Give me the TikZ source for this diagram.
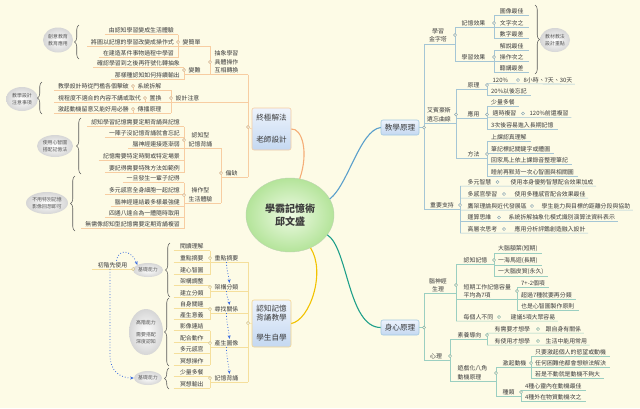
\documentclass[tikz,border=0pt]{standalone}
\usepackage{fontspec}
\setmainfont{Noto Sans CJK TC}
\usetikzlibrary{decorations.pathreplacing,arrows.meta,shapes.geometric}
\definecolor{bg}{HTML}{FDFBE6}
\definecolor{txt}{HTML}{3C3C3C}
\definecolor{ctxt}{HTML}{555555}
\definecolor{lo}{HTML}{F7CDA2}
\definecolor{ly}{HTML}{F5DF9C}
\definecolor{lb}{HTML}{A5C6D5}
\definecolor{lt}{HTML}{9BCFC1}
\definecolor{co}{HTML}{F5AE78}
\definecolor{cy}{HTML}{F2C200}
\definecolor{cb}{HTML}{5A9FCB}
\definecolor{ct}{HTML}{20A08A}
\definecolor{dotb}{HTML}{3A6CE0}
\definecolor{brc}{HTML}{5A5A5A}
\definecolor{boxtop}{HTML}{EDF3FC}
\definecolor{boxbot}{HTML}{C4D8F1}
\definecolor{mainin}{HTML}{EEFAE4}
\definecolor{mainout}{HTML}{B4E49A}
\definecolor{callo}{HTML}{D6D6D6}
\newcommand\fsA{\fontsize{5.9}{8.5}\selectfont}
\newcommand\fsE{\fontsize{4.9}{6.6}\selectfont}
\newcommand\fsB{\fontsize{7.6}{9}\selectfont}
\newcommand\fsM{\fontsize{10}{13}\selectfont}
\tikzset{
  tx/.style={font=\fsA, text=txt, inner xsep=2.5pt, inner ysep=1.2pt, align=center},
  uline/.style={append after command={(\tikzlastnode.south west) edge[draw=#1, line width=.6pt] (\tikzlastnode.south east)}},
  Lo/.style={tx, anchor=south east, inner xsep=4pt, uline=lo},
  Ly/.style={tx, anchor=south east, minimum width=36pt, uline=ly},
  Rb/.style={tx, anchor=south west, inner xsep=4pt, uline=lb},
  Rt/.style={tx, anchor=south west, inner xsep=4pt, uline=lt},
  ko/.style={draw=lo, line width=.6pt},
  ky/.style={draw=ly, line width=.6pt},
  kb/.style={draw=lb, line width=.6pt},
  kt/.style={draw=lt, line width=.6pt},
  cir/.style={circle, draw=#1!85!black, fill=bg, line width=.5pt, inner sep=0pt, minimum size=3.2pt},
  callout/.style={ellipse, inner sep=0pt, font=\fsE, text=ctxt, align=center, inner color=white, outer color=callo},
  bracestyle/.style={draw=brc, line width=.55pt, decorate, decoration={brace, amplitude=4.5pt}},
  box/.style={rounded corners=2pt, draw=#1, line width=.6pt, top color=boxtop, bottom color=boxbot, font=\fsB, text=txt, align=center, inner sep=0pt},
  dotA/.style={draw=dotb, dotted, line width=.8pt, -{Stealth[length=3.5pt,width=3pt]}},
  curve/.style={line width=1.1pt, draw=#1},
}
\begin{document}
\begin{tikzpicture}[x=1pt,y=-1pt]
\fill[bg] (0,0) rectangle (640,408);
\useasboundingbox (0,0) rectangle (640,408);

% ---------- main ----------
\node[ellipse, minimum width=88pt, minimum height=74pt, inner color=mainin, outer color=mainout, draw=mainout!80!black!60, line width=.4pt, font=\fsM\bfseries, text=txt, align=center] (main) at (290,215) {學霸記憶術\\邱文盛};

\node[box=lo, minimum width=39pt, minimum height=42pt] (zj) at (271.5,129) {終極解法\\[13pt]老師設計};
\node[box=ly!90!orange, minimum width=39pt, minimum height=47pt] (rz) at (271.5,323.5) {認知記憶\\背誦教學\\[11pt]學生自學};
\node[box=cb!55, minimum width=38pt, minimum height=15pt] (jx) at (400,127.5) {教學原理};
\node[box=cb!55, minimum width=38pt, minimum height=15pt] (sx) at (400,327.5) {身心原理};

\draw[curve=co] (zj.east) .. controls (302,128) and (309,152) .. (main.75);
\draw[curve=cb] (main.22) .. controls (348,185) and (360,130) .. (jx.west);
\draw[curve=cy] (rz.east) .. controls (310,320) and (326,272) .. (main.-58);
\draw[curve=ct] (main.-28) .. controls (348,248) and (348,327.5) .. (sx.west);

% ---------- orange branch ----------
\coordinate (cZ) at (248,127);
\coordinate (cAB) at (210,62);
\node[tx, anchor=west] (pAB) at (212,62) {抽象學習\\具體操作\\互相轉換};
\coordinate (cDS) at (171,98);
\node[tx, anchor=west] (pDS) at (173,98) {設計注意};
\coordinate (cPQ) at (221,173);
\node[tx, anchor=west] (pPQ) at (223,173) {偏缺};
\draw[ko] (cZ) -- (zj.west);
\draw[ko] (cZ |- pAB.south) -- (cZ |- pPQ.south);
\draw[ko] (cAB |- pAB.south) -- (cZ |- pAB.south);
\draw[ko] (cDS |- pDS.south) -- (cZ |- pDS.south);
\draw[ko] (cPQ |- pPQ.south) -- (cZ |- pPQ.south);

\coordinate (cJ) at (178,42);
\node[tx, anchor=west] (pJ) at (180,42) {變簡單};
\coordinate (cN) at (184,70);
\node[tx, anchor=west] (pN) at (186,70) {變難};
\draw[ko] (cJ |- pJ.south) -- (cAB |- pJ.south);
\draw[ko] (cN |- pN.south) -- (cAB |- pN.south);
\draw[ko] (cAB |- pJ.south) -- (cAB |- pAB.south);

\node[Lo] (a1) at (178,34.5) {由認知學習變成生活體驗};
\node[Lo] (a2) at (178,46.5) {將圖以記憶的學習改變成操作式};
\node[Lo] (a3) at (178,57.5) {在建造某件事物過程中學習};
\draw[ko] (a1.south east) -- (a3.south east);
\node[Lo] (n1) at (184,67.5) {確認學習到之後再符號化轉抽象};
\node[Lo] (n2) at (184,79.5) {那樣種認知如何持續輸出};
\draw[ko] (n1.south east) -- (n2.south east);

\coordinate (cs1) at (133,86);
\node[tx, anchor=west] (s1) at (135,86) {系統拆解};
\coordinate (cs2) at (145,98);
\node[tx, anchor=west] (s2) at (147,98) {置換};
\coordinate (cs3) at (133,109);
\node[tx, anchor=west] (s3) at (135,109) {傳播原理};
\draw[ko] (cs1 |- s1.south) -- (cDS |- s1.south);
\draw[ko] (cs2 |- s2.south) -- (cDS |- s2.south);
\draw[ko] (cs3 |- s3.south) -- (cDS |- s3.south);
\draw[ko] (cDS |- s1.south) -- (cDS |- s3.south);
\node[Lo] (e1) at (133,90.5) {教學設計時從門檻各個擊破};
\node[Lo] (e2) at (145,102.5) {視程度不適合的內容不講或取代};
\node[Lo] (e3) at (133,113.5) {激起動機留意又能好用必勝};
\draw[ko] (cs1) -- (e1.south east);
\draw[ko] (cs2) -- (e2.south east);
\draw[ko] (cs3) -- (e3.south east);

\coordinate (cR) at (184,140);
\node[tx, anchor=west] (pR) at (186,140) {認知型\\記憶背誦};
\coordinate (cC) at (184,195);
\node[tx, anchor=west] (pC) at (186,195) {操作型\\生活體驗};
\draw[ko] (cR |- pR.south) -- (cPQ |- pR.south);
\draw[ko] (cC |- pC.south) -- (cPQ |- pC.south);
\draw[ko] (cPQ |- pR.south) -- (cPQ |- pC.south);

\node[Lo] (r1) at (184,126.5) {認知學習記憶需要定期背誦與記憶};
\node[Lo] (r2) at (184,137) {一陣子沒記憶背誦就會忘記};
\node[Lo] (r3) at (184,148.5) {腦神經連接逐漸弱};
\node[Lo] (r4) at (184,160.5) {記憶需要特定時間或特定場景};
\node[Lo] (r5) at (184,172.5) {要記得需要特殊方法如範例};
\draw[ko] (r1.south east) -- (r5.south east);
\node[Lo] (k1) at (184,182.5) {一旦發生一輩子記得};
\node[Lo] (k2) at (184,194.5) {多元感官全身細胞一起記憶};
\node[Lo] (k3) at (184,206.5) {腦神經連結最多樣最強健};
\node[Lo] (k4) at (184,217.5) {四通八達合為一體隨時取用};
\node[Lo] (k5) at (184,228.5) {無需像認知型記憶需要定期背誦複習};
\draw[ko] (k1.south east) -- (k5.south east);

\node[callout, minimum width=30pt, minimum height=25pt] (E1) at (58,40) {創意教育\\教育應用};
\node[callout, minimum width=32pt, minimum height=24pt] (E2) at (22,99) {教學設計\\注意事項};
\node[callout, minimum width=36pt, minimum height=22pt] (E3) at (55,146) {使用心智圖\\搭配記憶法};
\node[callout, minimum width=42pt, minimum height=22pt] (E4) at (47,203) {不用特別記憶\\影像回想即可};
\draw[bracestyle] (79,59) -- (79,25);
\draw[bracestyle] (42,114) -- (42,82);
\draw[bracestyle] (81,174) -- (81,118);
\draw[bracestyle] (75,231) -- (75,176);

% ---------- yellow branch ----------
\coordinate (cY) at (248,323);
\draw[ky] (cY) -- (rz.west);
\coordinate (cm1) at (210,258);
\node[tx, anchor=west] (m1) at (212,258) {重點摘要};
\coordinate (cm2) at (210,287);
\node[tx, anchor=west] (m2) at (212,287) {架構分類};
\coordinate (cm3) at (210,309);
\node[tx, anchor=west] (m3) at (212,309) {尋找關係};
\coordinate (cm4) at (210,343);
\node[tx, anchor=west] (m4) at (212,343) {產生圖像};
\coordinate (cm5) at (210,378);
\node[tx, anchor=west] (m5) at (212,378) {記憶背誦};
\draw[ky] (cm1 |- m1.south) -- (cY |- m1.south);
\draw[ky] (cm2 |- m2.south) -- (cY |- m2.south);
\draw[ky] (cm3 |- m3.south) -- (cY |- m3.south);
\draw[ky] (cm4 |- m4.south) -- (cY |- m4.south);
\draw[ky] (cm5 |- m5.south) -- (cY |- m5.south);
\draw[ky] (cY |- m1.south) -- (cY |- m5.south);

\node[Ly] (l1) at (210,250.5) {閱讀理解};
\node[Ly] (l2) at (210,262.5) {重點摘要};
\node[Ly] (l3) at (210,274.5) {建心智圖};
\draw[ky] (l1.south east) -- (l3.south east);
\node[Ly] (l4) at (210,285.5) {架構調整};
\node[Ly] (l5) at (210,297.5) {建立分類};
\draw[ky] (l4.south east) -- (l5.south east);
\node[Ly] (l6) at (210,308) {自身關連};
\node[Ly] (l7) at (210,319.5) {產生意義};
\draw[ky] (l6.south east) -- (l7.south east);
\node[Ly] (l8) at (210,330.5) {影像連結};
\node[Ly] (l9) at (210,342) {配合動作};
\node[Ly] (l10) at (210,353.5) {多元感官};
\node[Ly] (l11) at (210,365) {冥想操作};
\draw[ky] (l8.south east) -- (l11.south east);
\node[Ly] (l12) at (210,376.5) {少量多餐};
\node[Ly] (l13) at (210,388) {冥想輸出};
\draw[ky] (l12.south east) -- (l13.south east);

\node[callout, minimum width=30pt, minimum height=14pt] (Y1) at (148,270) {基礎能力};
\node[callout, minimum width=34pt, minimum height=46pt] (Y2) at (146,332) {高階能力\\[6pt]需要搭配\\深度認知};
\node[callout, minimum width=28pt, minimum height=14pt] (Y3) at (148,378) {基礎能力};
\draw[bracestyle] (170,297) -- (170,243);
\draw[bracestyle] (169,366) -- (169,298);
\draw[bracestyle] (169,389) -- (169,368);

\node[tx, anchor=south, minimum width=41pt, uline=ly] (fu) at (112.5,269) {初階先使用};
\draw[dotA] ([xshift=4pt]fu.north) .. controls (118,248) and (132,250) .. (Y1.north west);
\draw[dotA] ([xshift=-2.5pt]fu.south) -- ++(0,86) .. controls +(0,16) and +(-14,0) .. (Y3.west);
\draw[dotA] (m1.south) .. controls +(0,8) and +(-1,-8) .. ([xshift=3pt]m2.north);
\draw[dotA] (m2.south) .. controls +(0,6) and +(-1,-6) .. ([xshift=3pt]m3.north);
\draw[dotA] (m3.south) .. controls +(0,10) and +(-1,-10) .. ([xshift=3pt]m4.north);
\draw[dotA] (m4.south) .. controls +(0,10) and +(-1,-10) .. ([xshift=3pt]m5.north);

% ---------- blue branch ----------
\coordinate (cJX) at (424,127.5);
\draw[kb] (jx.east) -- (cJX);
\coordinate (cP) at (455,35);
\node[tx] (pP) at (438,35.5) {學習\\金字塔};
\coordinate (cE) at (456,114.5);
\node[tx] (pE) at (439,114.5) {艾賓豪斯\\遺忘曲線};
\coordinate (cS) at (460,205);
\node[tx] (pS) at (442,205) {重要支持};
\draw[kb] (cJX |- pP.south) -- (cP |- pP.south);
\draw[kb] (cJX |- pE.south) -- (cE |- pE.south);
\draw[kb] (cJX |- pS.south) -- (cS |- pS.south);
\draw[kb] (cJX |- pP.south) -- (cJX |- pS.south);

\coordinate (cM) at (494,23);
\node[tx, anchor=west] (pM) at (459,23) {記憶效果};
\coordinate (cL) at (494,57);
\node[tx, anchor=west] (pL) at (459,57) {學習效果};
\draw[kb] (cP |- pM.south) -- (cM |- pM.south);
\draw[kb] (cP |- pL.south) -- (cM |- pL.south);
\draw[kb] (cP |- pM.south) -- (cP |- pL.south);
\node[Rb, minimum width=35pt] (g1) at (494,15.5) {圖像最佳};
\node[Rb, minimum width=35pt] (g2) at (494,27.5) {文字次之};
\node[Rb, minimum width=35pt] (g3) at (494,38.5) {數字最差};
\draw[kb] (g1.south west) -- (g3.south west);
\node[Rb, minimum width=35pt] (h1) at (494,50.5) {解說最佳};
\node[Rb, minimum width=35pt] (h2) at (494,61.5) {操作次之};
\node[Rb, minimum width=35pt] (h3) at (494,72.5) {聽講最差};
\draw[kb] (h1.south west) -- (h3.south west);
\draw[bracestyle] (535,5) -- (535,74);
\node[callout, minimum width=30pt, minimum height=24pt] (E5) at (555,40) {教材教法\\設計重點};

\coordinate (cY2) at (487,85);
\node[tx, anchor=west] (pY) at (465,85) {原理};
\coordinate (cA2) at (487,114.5);
\node[tx, anchor=west] (pA) at (465,114.5) {應用};
\coordinate (cF) at (487,154);
\node[tx, anchor=west] (pF) at (465,154) {方法};
\draw[kb] (cE |- pY.south) -- (cY2 |- pY.south);
\draw[kb] (cE |- pA.south) -- (cA2 |- pA.south);
\draw[kb] (cE |- pF.south) -- (cF |- pF.south);
\draw[kb] (cE |- pY.south) -- (cE |- pF.south);

\coordinate (cy1) at (518,80);
\node[tx, anchor=west] (y1) at (490,80) {120\%};
\node[tx, anchor=west] (y1c) at (521,80) {8小時、7天、30天};
\draw[kb] (cY2 |- y1.south) -- (y1c.south east);
\node[Rb] (y2) at (487,95.5) {20\%以後忘記};
\draw[kb] (cY2 |- y1.south) -- (cY2 |- y2.south);

\node[Rb] (u1) at (487,106.5) {少量多餐};
\coordinate (cu2) at (523,113.5);
\node[tx, anchor=west] (u2) at (490,113.5) {適時複習};
\node[tx, anchor=west] (u2c) at (527,113.5) {120\%前還複習};
\draw[kb] (cA2 |- u2.south) -- (u2c.south east);
\node[Rb] (u3) at (487,129.5) {3次後容易進入長期記憶};
\draw[kb] (u1.south west) -- (u3.south west);

\node[Rb] (f1) at (487,141.5) {上課認真理解};
\node[Rb] (f2) at (487,153) {筆記標記關鍵字或體圖};
\node[Rb] (f3) at (487,164.5) {回家馬上依上課錄音整理筆記};
\node[Rb] (f4) at (487,176) {睡前再默背一次心智圖與相關圖};
\draw[kb] (f1.south west) -- (f4.south west);

\coordinate (cq1) at (497.5,182);
\node[tx, anchor=west] (q1) at (465,182) {多元智慧};
\node[tx, anchor=west] (q1c) at (508,182) {使用本身優勢智慧配合效果加成};
\coordinate (cq2) at (504,194);
\node[tx, anchor=west] (q2) at (465,194) {多感官學習};
\node[tx, anchor=west] (q2c) at (512,194) {使用多種感官配合效果最佳};
\coordinate (cq3) at (532,206);
\node[tx, anchor=west] (q3) at (465,206) {鷹架理論與近代發展區};
\node[tx, anchor=west] (q3c) at (539,206) {學生能力與目標的距離分段與協助};
\coordinate (cq4) at (499,217.5);
\node[tx, anchor=west] (q4) at (465,217.5) {運算思維};
\node[tx, anchor=west] (q4c) at (506,217.5) {系統拆解抽象化模式識別演算法資料表示};
\coordinate (cq5) at (504,229);
\node[tx, anchor=west] (q5) at (465,229) {高層次思考};
\node[tx, anchor=west] (q5c) at (512,229) {應用分析評鑑創造融入設計};
\draw[kb] (cS |- q1.south) -- (q1c.south east);
\draw[kb] (cS |- q2.south) -- (q2c.south east);
\draw[kb] (cS |- q3.south) -- (q3c.south east);
\draw[kb] (cS |- q4.south) -- (q4c.south east);
\draw[kb] (cS |- q5.south) -- (q5c.south east);
\draw[kb] (cS |- q1.south) -- (cS |- q5.south);

% ---------- teal branch ----------
\coordinate (cSX) at (424,327.5);
\draw[kt] (sx.east) -- (cSX);
\coordinate (cB) at (456,285);
\node[tx] (pB) at (438,285) {腦神經\\生理};
\coordinate (cX) at (450,356);
\node[tx] (pX) at (436,356) {心理};
\draw[kt] (cSX |- pB.south) -- (cB |- pB.south);
\draw[kt] (cSX |- pX.south) -- (cX |- pX.south);
\draw[kt] (cSX |- pB.south) -- (cSX |- pX.south);

\coordinate (cb1) at (494,260);
\node[tx, anchor=west] (b1) at (461,260) {認知記憶};
\coordinate (cb2) at (517,291);
\node[tx, anchor=west, align=left] (b2) at (461,291) {短期工作記憶容量\\平均為7項};
\coordinate (cb3) at (499,317);
\node[tx, anchor=west] (b3) at (461,317) {每個人不同};
\node[tx, anchor=west] (b3c) at (508,317) {建議5項大眾容易};
\draw[kt] (cB |- b1.south) -- (cb1 |- b1.south);
\draw[kt] (cB |- b2.south) -- (cb2 |- b2.south);
\draw[kt] (cB |- b3.south) -- (b3c.south east);
\draw[kt] (cB |- b1.south) -- (cB |- b3.south);

\node[Rt] (v1) at (494,253.5) {大腦額葉(短期)};
\node[Rt] (v2) at (494,265) {一海馬迴(長期)};
\node[Rt] (v3) at (494,276.5) {一大腦皮質(永久)};
\draw[kt] (v1.south west) -- (v3.south west);
\node[Rt] (w1) at (517,287.5) {7+-2個項};
\node[Rt] (w2) at (517,299.5) {超過7種就要再分類};
\node[Rt] (w3) at (517,310.5) {也是心智圖製作原則};
\draw[kt] (w1.south west) -- (w3.south west);

\coordinate (cx1) at (487,335);
\node[tx, anchor=west] (x1) at (455,335) {素養導向};
\coordinate (cx2) at (496,373);
\node[tx, anchor=west, align=left] (x2) at (455,373) {遊戲化八角\\動機原理};
\draw[kt] (cX |- x1.south) -- (cx1 |- x1.south);
\draw[kt] (cX |- x2.south) -- (cx2 |- x2.south);
\draw[kt] (cX |- x1.south) -- (cX |- x2.south);

\coordinate (cx11) at (538,329);
\node[tx, anchor=west] (x11) at (492,329) {有需要才想學};
\node[tx, anchor=west] (x11c) at (543,329) {跟自身有關係};
\coordinate (cx12) at (538,341);
\node[tx, anchor=west] (x12) at (492,341) {有使用才想學};
\node[tx, anchor=west] (x12c) at (543,341) {生活中能用常用};
\draw[kt] (cx1 |- x11.south) -- (x11c.south east);
\draw[kt] (cx1 |- x12.south) -- (x12c.south east);
\draw[kt] (cx1 |- x11.south) -- (cx1 |- x12.south);

\coordinate (cx21) at (531,363);
\node[tx, anchor=west] (x21) at (500,363) {激起動機};
\coordinate (cx22) at (521,392);
\node[tx, anchor=west] (x22) at (500,392) {種類};
\draw[kt] (cx2 |- x21.south) -- (cx21 |- x21.south);
\draw[kt] (cx2 |- x22.south) -- (cx22 |- x22.south);
\draw[kt] (cx2 |- x21.south) -- (cx2 |- x22.south);
\node[Rt] (z1) at (531,356.5) {只要激起個人的慾望或動機};
\node[Rt] (z2) at (531,367.5) {任何困難他都會想辦法解決};
\node[Rt] (z3) at (531,378.5) {若是不動就是動機不夠大};
\draw[kt] (z1.south west) -- (z3.south west);
\node[Rt] (z4) at (521,390.5) {4種心靈內在動機最佳};
\node[Rt] (z5) at (521,401.5) {4種外在物質動機次之};
\draw[kt] (z4.south west) -- (z5.south west);

% ---------- connector dots ----------
\foreach \c in {cZ,cAB,cDS,cPQ,cJ,cN,cs1,cs2,cs3,cR,cC} \node[cir=lo] at (\c) {};
\foreach \c in {cY,cm1,cm2,cm3,cm4,cm5} \node[cir=ly] at (\c) {};
\node[cir=ly] at (fu.south east) {};
\foreach \c in {cJX,cP,cE,cS,cM,cL,cY2,cA2,cF,cy1,cu2,cq1,cq2,cq3,cq4,cq5} \node[cir=lb] at (\c) {};
\foreach \c in {cSX,cB,cX,cb1,cb2,cb3,cx1,cx2,cx11,cx12,cx21,cx22} \node[cir=lt] at (\c) {};
\end{tikzpicture}
\end{document}
